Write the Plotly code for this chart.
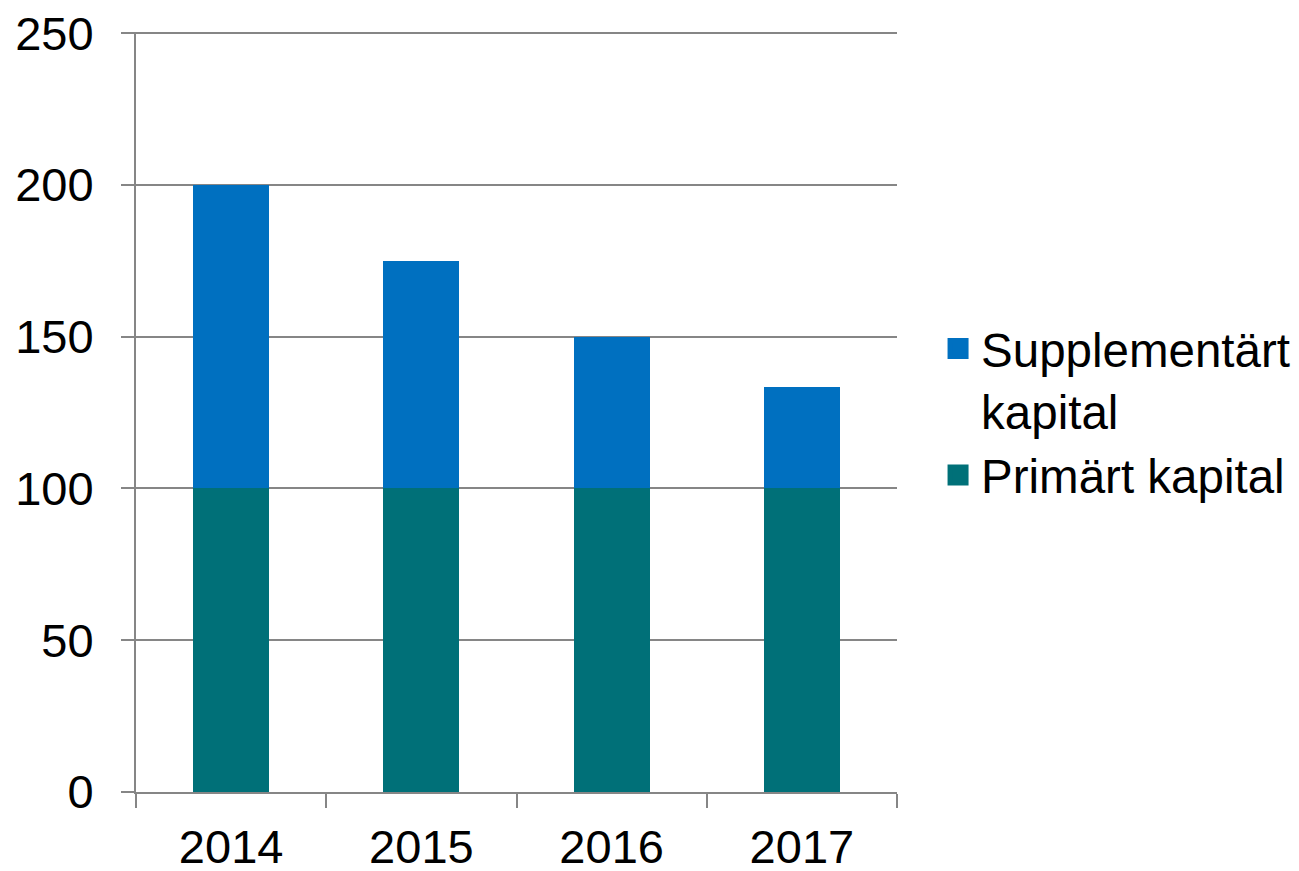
import plotly.graph_objects as go

years = ["2014", "2015", "2016", "2017"]
primart = [100, 100, 100, 100]
supplementart = [100, 75, 50, 33.3]

series_names = ["Primärt kapital", "Supplementärt<br>kapital"]
colors = ["#007078", "#0070C0"]

FONT = "Liberation Sans, Arial, sans-serif"
GRID = "#868686"
FS = 47

fig = go.Figure()
fig.add_trace(go.Bar(x=years, y=primart, name=series_names[0], showlegend=False,
                     marker=dict(color=colors[0], line=dict(width=0))))
fig.add_trace(go.Bar(x=years, y=supplementart, name=series_names[1], showlegend=False,
                     marker=dict(color=colors[1], line=dict(width=0))))
# legend entries (larger square swatches)
for name, col in zip(series_names, colors):
    fig.add_trace(go.Scatter(x=[None], y=[None], mode="markers", name=name,
                             marker=dict(symbol="square", size=16, color=col,
                                         line=dict(width=5, color=col))))

fig.update_layout(
    width=1320, height=863,
    margin=dict(l=128, r=431, t=24, b=79, pad=0),
    barmode="stack", bargap=0.6,
    plot_bgcolor="white", paper_bgcolor="white",
    font=dict(family=FONT, size=FS, color="black"),
    legend=dict(x=1.05, y=0.5, xanchor="left", yanchor="middle",
                traceorder="reversed", font=dict(size=47.5),
                itemsizing="trace", tracegroupgap=0, itemwidth=36,
                valign="top", bgcolor="rgba(0,0,0,0)"),
    showlegend=True,
)
fig.update_yaxes(range=[0, 250.4], tickvals=[0, 50, 100, 150, 200, 250],
                 showgrid=True, gridcolor=GRID, gridwidth=2,
                 showline=True, linecolor=GRID, linewidth=2,
                 ticks="outside", ticklen=13, tickcolor=GRID, tickwidth=2,
                 zeroline=False, ticklabelstandoff=18, automargin=False,
                 ticklabeloverflow="allow")
fig.update_xaxes(showline=True, linecolor=GRID, linewidth=2,
                 ticks="outside", tickson="boundaries", ticklen=14, tickcolor=GRID, tickwidth=2,
                 showgrid=False, ticklabelstandoff=13, automargin=False)

fig.write_html("out.html")
